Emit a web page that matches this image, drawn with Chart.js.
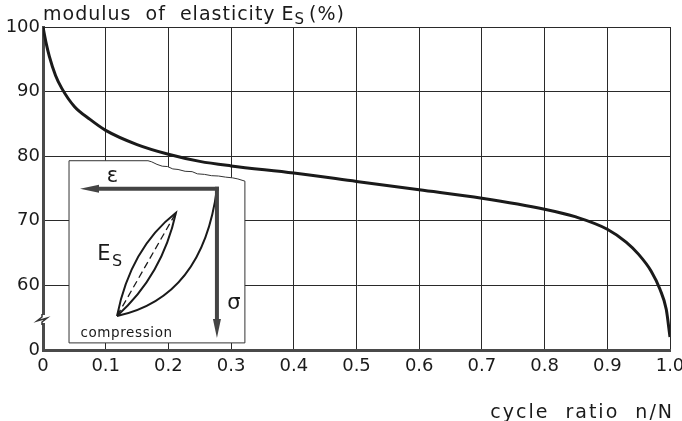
<!DOCTYPE html>
<html>
<head>
<meta charset="utf-8">
<script src="https://cdn.jsdelivr.net/npm/chart.js@4"></script>
<style>
  html, body { margin: 0; padding: 0; background: #fff; }
  canvas { display: block; }
</style>
</head>
<body>
<canvas id="fatigue" width="682" height="421"></canvas>
<script>
/* modulus of elasticity vs. cycle ratio — fatigue curve with a stress/strain inset */

const cycleRatio = [0, 0.005, 0.01, 0.02, 0.03, 0.05, 0.075, 0.1, 0.15, 0.2, 0.25, 0.3,
  0.4, 0.5, 0.6, 0.7, 0.8, 0.85, 0.9, 0.93, 0.95, 0.97, 0.984, 0.994, 1.0];
const modulusPct = [100, 97.5, 95.5, 92.5, 90.5, 87.7, 85.7, 84, 81.8, 80.3, 79.2, 78.5,
  77.4, 76.1, 74.8, 73.5, 71.8, 70.6, 68.7, 66.7, 64.8, 62.2, 59.4, 56.3, 52];

const xTicks = [0, 0.1, 0.2, 0.3, 0.4, 0.5, 0.6, 0.7, 0.8, 0.9, 1.0];
const yTicks = [50, 60, 70, 80, 90, 100];   // 50 sits at the broken-axis origin, shown as "0"

const INK = '#1a1a1a';
const FONT = '"DejaVu Sans", sans-serif';

// inset box, in data units (x: cycle ratio, y: %)
const insetBox = { x0: 0.0415, x1: 0.322, yTop: 79.3, yBot: 51.1 };

const extras = {
  id: 'extras',
  beforeDatasetsDraw(chart) {
    const { ctx, scales: { x, y } } = chart;
    const L = x.getPixelForValue(insetBox.x0), R = x.getPixelForValue(insetBox.x1);
    const T = y.getPixelForValue(insetBox.yTop), B = y.getPixelForValue(insetBox.yBot);
    const W = R - L, H = B - T;
    const P = (fx, fy) => [L + fx * W, T + fy * H];

    ctx.save();
    // box with a torn top edge
    const torn = [[0.449, 0], [0.47, 0.006], [0.5, 0.02], [0.53, 0.03], [0.56, 0.032],
      [0.59, 0.045], [0.62, 0.048], [0.66, 0.058], [0.7, 0.06], [0.73, 0.072],
      [0.77, 0.075], [0.81, 0.082], [0.85, 0.084], [0.89, 0.09], [0.93, 0.094], [0.96, 0.1], [1, 0.112]];
    ctx.beginPath();
    ctx.moveTo(...P(0, 0));
    torn.forEach(p => ctx.lineTo(...P(p[0], p[1])));
    ctx.lineTo(...P(1, 1));
    ctx.lineTo(...P(0, 1));
    ctx.closePath();
    ctx.fillStyle = '#fff';
    ctx.fill();
    ctx.lineWidth = 1;
    ctx.strokeStyle = '#333';
    ctx.stroke();

    // loading curve from compression point up to the origin corner
    const A = P(0.273, 0.852), Bp = P(0.608, 0.286), O = P(0.841, 0.154);
    ctx.lineWidth = 2;
    ctx.strokeStyle = INK;
    ctx.beginPath();
    ctx.moveTo(...A);
    ctx.quadraticCurveTo(...P(0.76, 0.75), ...O);
    ctx.stroke();

    // hysteresis loop
    ctx.beginPath();
    ctx.moveTo(...A);
    ctx.quadraticCurveTo(...P(0.35, 0.48), ...Bp);
    ctx.quadraticCurveTo(...P(0.53, 0.63), ...A);
    ctx.stroke();

    // secant modulus
    ctx.lineWidth = 1.3;
    ctx.setLineDash([7, 4]);
    ctx.beginPath();
    ctx.moveTo(...A);
    ctx.lineTo(...Bp);
    ctx.stroke();
    ctx.setLineDash([]);

    // strain and stress arrows
    const arrow = (from, to) => {
      const ang = Math.atan2(to[1] - from[1], to[0] - from[0]);
      const len = 19, half = 4;
      const bx = to[0] - len * Math.cos(ang), by = to[1] - len * Math.sin(ang);
      ctx.lineWidth = 4;
      ctx.strokeStyle = '#444';
      ctx.beginPath();
      ctx.moveTo(...from);
      ctx.lineTo(bx, by);
      ctx.stroke();
      ctx.fillStyle = '#444';
      ctx.beginPath();
      ctx.moveTo(...to);
      ctx.lineTo(bx + half * Math.sin(ang), by - half * Math.cos(ang));
      ctx.lineTo(bx - half * Math.sin(ang), by + half * Math.cos(ang));
      ctx.closePath();
      ctx.fill();
    };
    arrow([O[0] + 2, O[1]], P(0.0625, 0.154));
    arrow([O[0], O[1] - 2], P(0.841, 0.973));

    ctx.fillStyle = INK;
    ctx.textBaseline = 'alphabetic';
    ctx.font = '21px ' + FONT;
    ctx.fillText('ε', ...P(0.215, 0.115));
    ctx.fillText('σ', ...P(0.9, 0.815));
    ctx.font = '21px ' + FONT;
    ctx.fillText('E', ...P(0.16, 0.545));
    ctx.font = '16px ' + FONT;
    ctx.fillText('S', ...P(0.245, 0.58));
    ctx.font = '13.5px ' + FONT;
    ctx.letterSpacing = '0.6px';
    ctx.fillText('compression', ...P(0.065, 0.97));
    ctx.restore();
  },
  afterDraw(chart) {
    const { ctx, chartArea: a } = chart;
    ctx.save();
    ctx.fillStyle = INK;
    ctx.textBaseline = 'alphabetic';

    // axis titles
    ctx.font = '19px ' + FONT;
    ctx.letterSpacing = '1px';
    ctx.fillText('modulus  of  elasticity', a.left, 20);
    let cx = a.left + ctx.measureText('modulus  of  elasticity').width + 6;
    ctx.fillText('E', cx, 20);
    cx += ctx.measureText('E').width;
    ctx.font = '15px ' + FONT;
    ctx.fillText('S', cx, 24);
    cx += ctx.measureText('S').width + 4;
    ctx.font = '19px ' + FONT;
    ctx.fillText('(%)', cx, 20);

    ctx.letterSpacing = '2px';
    ctx.textAlign = 'right';
    ctx.fillText('cycle  ratio  n/N', a.right + 4, 418);

    // break mark on the value axis
    const yb = chart.scales.y.getPixelForValue(54.8);
    ctx.fillStyle = '#fff';
    ctx.fillRect(a.left - 3, yb - 4, 6, 8);
    ctx.strokeStyle = '#333';
    ctx.lineWidth = 1.5;
    ctx.beginPath();
    ctx.moveTo(a.left - 1, yb - 5);
    ctx.lineTo(a.left - 1, yb - 2);
    ctx.lineTo(a.left - 6, yb + 2);
    ctx.lineTo(a.left + 4, yb - 1);
    ctx.lineTo(a.left - 1, yb + 3);
    ctx.lineTo(a.left - 1, yb + 6);
    ctx.stroke();
    ctx.restore();
  }
};

new Chart(document.getElementById('fatigue'), {
  type: 'scatter',
  data: {
    datasets: [{
      data: cycleRatio.map((v, i) => ({ x: v, y: modulusPct[i] })),
      showLine: true,
      borderColor: INK,
      borderWidth: 3,
      pointRadius: 0,
      cubicInterpolationMode: 'monotone'
    }]
  },
  options: {
    responsive: false,
    animation: false,
    events: [],
    layout: { padding: { top: 27, right: 12, left: 0, bottom: 0 } },
    plugins: { legend: { display: false }, tooltip: { enabled: false } },
    scales: {
      x: {
        type: 'linear',
        min: 0,
        max: 1,
        afterBuildTicks: s => { s.ticks = xTicks.map(v => ({ value: v })); },
        afterFit: s => { s.height = 71; s.paddingLeft = 0; s.paddingRight = 0; },
        grid: { color: '#2a2a2a', lineWidth: 1, drawTicks: false },
        border: { color: '#4a4a4a', width: 3 },
        ticks: {
          color: INK,
          font: { family: 'DejaVu Sans', size: 18 },
          padding: 6,
          maxRotation: 0,
          callback: v => v === 0 ? '0' : v.toFixed(1)
        }
      },
      y: {
        min: 50,
        max: 100,
        afterBuildTicks: s => { s.ticks = yTicks.map(v => ({ value: v })); },
        afterFit: s => { s.width = 43; s.paddingTop = 0; s.paddingBottom = 0; },
        grid: { color: '#2a2a2a', lineWidth: 1, drawTicks: false },
        border: { color: '#4a4a4a', width: 3 },
        ticks: {
          color: INK,
          font: { family: 'DejaVu Sans', size: 18 },
          padding: 3,
          callback: v => v === 50 ? '0' : String(v)
        }
      }
    }
  },
  plugins: [extras]
});
</script>
</body>
</html>
